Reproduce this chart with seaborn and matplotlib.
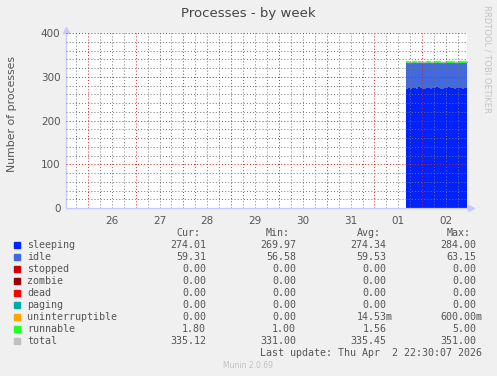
"""Munin style 'Processes - by week' chart."""

import matplotlib

matplotlib.use("Agg")
import matplotlib.dates as mdates
import matplotlib.pyplot as plt
import pandas as pd
import seaborn as sns
from matplotlib.patches import Rectangle
from matplotlib.ticker import FuncFormatter, MultipleLocator

# hourly samples, 01 Apr 16:00 .. 02 Apr 22:00
sleeping = [273, 274, 272, 275, 274, 273, 276, 274, 272, 273, 275, 274, 273, 274, 275, 276,
            274, 273, 272, 274, 275, 276, 275, 274, 273, 274, 275, 274, 273, 274, 274]
idle = [60, 59, 61, 59, 60, 60, 58, 59, 61, 60, 59, 60, 60, 59, 59, 58,
        60, 60, 61, 59, 59, 58, 59, 60, 60, 59, 59, 60, 61, 60, 59]
runnable = [2.0, 1.5, 1.6, 1.4, 1.8, 1.5, 1.6, 1.4, 1.7, 1.5, 1.3, 1.6, 1.5, 1.4, 1.6, 1.7,
            1.5, 1.4, 1.6, 1.5, 1.8, 1.4, 1.5, 1.6, 1.7, 1.5, 1.4, 1.6, 1.5, 1.6, 1.8]

names = ["sleeping", "idle", "stopped", "zombie", "dead", "paging",
         "uninterruptible", "runnable", "total"]
colors = ["#0022ff", "#4169e1", "#cc0000", "#990000", "#ff0000", "#00aaaa",
          "#ffa500", "#22ff22", "#c0c0c0"]
cur = ["274.01", "59.31", "0.00", "0.00", "0.00", "0.00", "0.00", "1.80", "335.12"]
mins = ["269.97", "56.58", "0.00", "0.00", "0.00", "0.00", "0.00", "1.00", "331.00"]
avgs = ["274.34", "59.53", "0.00", "0.00", "0.00", "0.00", "14.53m", "1.56", "335.45"]
maxs = ["284.00", "63.15", "0.00", "0.00", "0.00", "0.00", "600.00m", "5.00", "351.00"]

W, H = 497, 376
BG = "#f0f0f0"
TXT = "#555555"


def px_x(x):
    return x / W


def px_y(y):
    return 1 - y / H


def main() -> None:
    sns.set_theme(style="white")
    plt.rcParams["font.family"] = ["DejaVu Sans"]

    times = pd.date_range("2026-04-01 16:00", periods=len(sleeping), freq="1h")
    edges = list(times) + [pd.Timestamp("2026-04-02 22:30")]
    df = pd.DataFrame({"time": edges,
                       "sleeping": sleeping + sleeping[-1:],
                       "idle": idle + idle[-1:],
                       "runnable": runnable + runnable[-1:]})
    df["s1"] = df["sleeping"]
    df["s2"] = df["s1"] + df["idle"]
    df["s3"] = df["s2"] + df["runnable"]

    fig = plt.figure(figsize=(W / 100, H / 100), dpi=100, facecolor=BG)
    ax = fig.add_axes([66 / W, px_y(208), (467 - 66) / W, (208 - 33) / H])
    ax.set_facecolor("white")

    ax.fill_between(df["time"], 0, df["s1"], step="post", color=colors[0], lw=0)
    ax.fill_between(df["time"], df["s1"], df["s2"], step="post", color=colors[1], lw=0)
    ax.fill_between(df["time"], df["s2"], df["s3"], step="post", color=colors[7],
                    lw=0.9, edgecolor=colors[7])
    sns.lineplot(x=df["time"], y=df["s3"], drawstyle="steps-post", color="#b8b8b8",
                 lw=0.6, ax=ax)

    ax.set_xlim(pd.Timestamp("2026-03-25 13:00"), pd.Timestamp("2026-04-02 22:30"))
    ax.set_ylim(0, 400)

    ax.xaxis.set_major_locator(mdates.HourLocator(byhour=[0]))
    ax.xaxis.set_minor_locator(mdates.HourLocator(byhour=[6, 12, 18]))
    ax.xaxis.set_major_formatter(FuncFormatter(lambda v, p: ""))

    def minor_fmt(v, p):
        d = mdates.num2date(v)
        return d.strftime("%d") if d.hour == 12 else ""

    ax.xaxis.set_minor_formatter(FuncFormatter(minor_fmt))
    ax.yaxis.set_major_locator(MultipleLocator(100))
    ax.yaxis.set_minor_locator(MultipleLocator(20))

    ax.grid(which="major", color=(0.9, 0.1, 0.1, 0.38), ls=(0, (1, 2.2)), lw=0.7)
    ax.grid(which="minor", color=(0.45, 0.45, 0.45, 0.32), ls=(0, (1, 2.2)), lw=0.7)
    ax.set_axisbelow(False)

    ax.tick_params(axis="both", which="both", direction="out", length=2, width=0.6,
                   colors="#aaaaaa", labelcolor=TXT, labelsize=7.5, pad=2)
    ax.tick_params(axis="x", which="minor", pad=4)
    for side in ["top", "right"]:
        ax.spines[side].set_visible(False)
    for side in ["left", "bottom"]:
        ax.spines[side].set_color("#c8c8ff")
        ax.spines[side].set_linewidth(0.9)
    ax.plot([0], [1.02], marker="^", ms=4, color="#c8c8ff", transform=ax.transAxes,
            clip_on=False)
    ax.plot([1.01], [0], marker=">", ms=4, color="#c8c8ff", transform=ax.transAxes,
            clip_on=False)
    ax.set_xlabel("")
    ax.set_ylabel("")

    fig.text(px_x(12), px_y(114), "Number of processes", rotation=90, ha="center",
             va="center", fontsize=7.8, color=TXT)
    fig.text(px_x(248), px_y(14), "Processes - by week", ha="center", va="center",
             fontsize=9.5, color="#444444")
    fig.text(px_x(487), px_y(5), "RRDTOOL / TOBI OETIKER", rotation=270, ha="center",
             va="top", fontsize=6, color="#c4c4c4")

    mono = "DejaVu Sans Mono"
    fs = 7.2
    cols = [206, 296, 386.5, 476.5]
    for x, head in zip(cols, ["Cur:", "Min:", "Avg:", "Max:"]):
        fig.text(px_x(x - 6), px_y(233), head, ha="right", va="center",
                 family=mono, fontsize=fs, color=TXT)

    for i, name in enumerate(names):
        y = 244.5 + i * 12
        fig.patches.append(Rectangle((px_x(14), px_y(y + 3)), 6 / W, 6 / H,
                                     transform=fig.transFigure, color=colors[i]))
        fig.text(px_x(27), px_y(y), name, ha="left", va="center",
                 family=mono, fontsize=fs, color=TXT)
        for x, val in zip(cols, [cur[i], mins[i], avgs[i], maxs[i]]):
            right = x + 6 if val.endswith("m") else x
            fig.text(px_x(right), px_y(y), val, ha="right", va="center",
                     family=mono, fontsize=fs, color=TXT)

    fig.text(px_x(482.5), px_y(352.5), "Last update: Thu Apr  2 22:30:07 2026",
             ha="right", va="center", family=mono, fontsize=fs, color=TXT)
    fig.text(px_x(248), px_y(366), "Munin 2.0.69", ha="center", va="center",
             fontsize=5.5, color="#c0c0c0")

    fig.savefig("out.png", dpi=100, facecolor=BG)
    plt.close(fig)


if __name__ == "__main__":
    main()
